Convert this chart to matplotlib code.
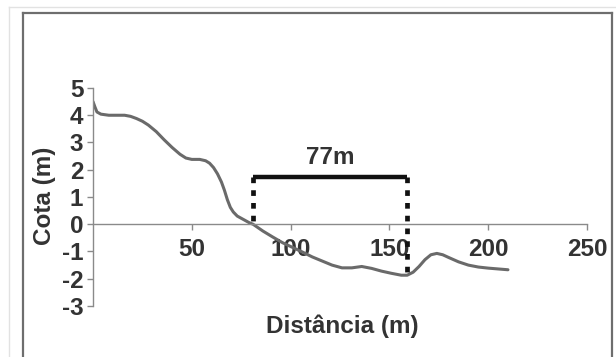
import matplotlib

matplotlib.use("Agg")
import matplotlib.pyplot as plt
from matplotlib.lines import Line2D

plt.rcParams["font.family"] = ["Liberation Sans", "DejaVu Sans"]
plt.rcParams["axes.unicode_minus"] = False

# perfil do terreno (distância m, cota m)
dist = [0, 1, 2, 4, 8, 12, 16, 19, 22, 25, 28, 32, 36, 40, 44, 47, 50, 54,
        57, 59, 61, 63, 65, 66.5, 68, 69.5, 71, 73, 76, 79, 81, 86, 91, 96,
        101, 106, 111, 116, 121, 126, 131, 136, 141, 146, 151, 156, 159, 162,
        165, 168, 171, 174, 177, 180, 185, 190, 195, 200, 205, 210]
cota = [4.5, 4.3, 4.12, 4.04, 4.0, 4.0, 4.0, 3.96, 3.88, 3.78, 3.64, 3.4,
        3.1, 2.82, 2.57, 2.43, 2.38, 2.38, 2.33, 2.24, 2.08, 1.85, 1.55, 1.25,
        0.9, 0.62, 0.45, 0.3, 0.18, 0.06, 0.0, -0.25, -0.47, -0.68, -0.85,
        -1.02, -1.2, -1.35, -1.5, -1.6, -1.6, -1.55, -1.62, -1.72, -1.8,
        -1.87, -1.87, -1.76, -1.55, -1.3, -1.12, -1.07, -1.12, -1.22, -1.38,
        -1.5, -1.57, -1.61, -1.64, -1.67]

# traço de medida e extremidades
x_ini, x_fim = 81, 159
y_barra = 1.75
y_fim_ini, y_fim_fim = 0.0, -1.82
rotulo = "77m"

xticks = [50, 100, 150, 200, 250]
yticks = [-3, -2, -1, 0, 1, 2, 3, 4, 5]

txt = "#333333"
axc = "#8a8a8a"
fs = 17.5

fig = plt.figure(figsize=(6.16, 3.57), dpi=100)
ax = fig.add_axes([93 / 616, 1 - 306 / 357, 494 / 616, 218 / 357])

ax.plot(dist, cota, color="#6a6a6a", lw=2.2, solid_capstyle="round",
        solid_joinstyle="round")

ax.plot([x_ini, x_fim], [y_barra, y_barra], color="#111111", lw=3.2,
        solid_capstyle="butt")
for xv, yv in ((x_ini, y_fim_ini), (x_fim, y_fim_fim)):
    ax.plot([xv, xv], [y_barra, yv], color="#111111", lw=3.4,
            ls=(0, (1.2, 1.5)))
ax.text((x_ini + x_fim) / 2, y_barra + 0.28, rotulo, ha="center",
        va="bottom", fontsize=fs, fontweight="bold", color=txt)

ax.set_xlim(0, 250)
ax.set_ylim(-3, 5)
ax.spines["top"].set_visible(False)
ax.spines["right"].set_visible(False)
ax.spines["bottom"].set_position(("data", 0))
for s in ("left", "bottom"):
    ax.spines[s].set_color(axc)
    ax.spines[s].set_linewidth(1.0)
ax.set_xticks(xticks)
ax.set_yticks(yticks)
ax.tick_params(colors=axc, length=4, width=1.0, labelsize=fs,
               labelcolor=txt)
ax.tick_params(axis="x", pad=6)
ax.tick_params(axis="y", pad=3)
for lb in ax.get_xticklabels() + ax.get_yticklabels():
    lb.set_fontweight("bold")

fig.text(342 / 616, 1 - 326 / 357, "Distância (m)", ha="center",
         va="center", fontsize=fs, fontweight="bold", color=txt)
fig.text(45 / 616, 1 - 196 / 357, "Cota (m)", ha="center", va="center",
         rotation=90, fontsize=fs, fontweight="bold", color=txt)

# moldura
W, H = 616, 357
def linha(x0, y0, x1, y1, cor, lw):
    fig.add_artist(Line2D([x0 / W, x1 / W], [1 - y0 / H, 1 - y1 / H],
                          transform=fig.transFigure, color=cor, lw=lw))

linha(9, 7, 616, 7, "#e2e2e2", 1.0)
linha(9, 7, 9, 357, "#e2e2e2", 1.0)
linha(23, 13, 612, 13, "#6e6e6e", 1.6)
linha(23, 13, 23, 357, "#6e6e6e", 1.6)
linha(612, 13, 612, 357, "#6e6e6e", 1.6)

fig.savefig("out.png", dpi=100, facecolor="white")
